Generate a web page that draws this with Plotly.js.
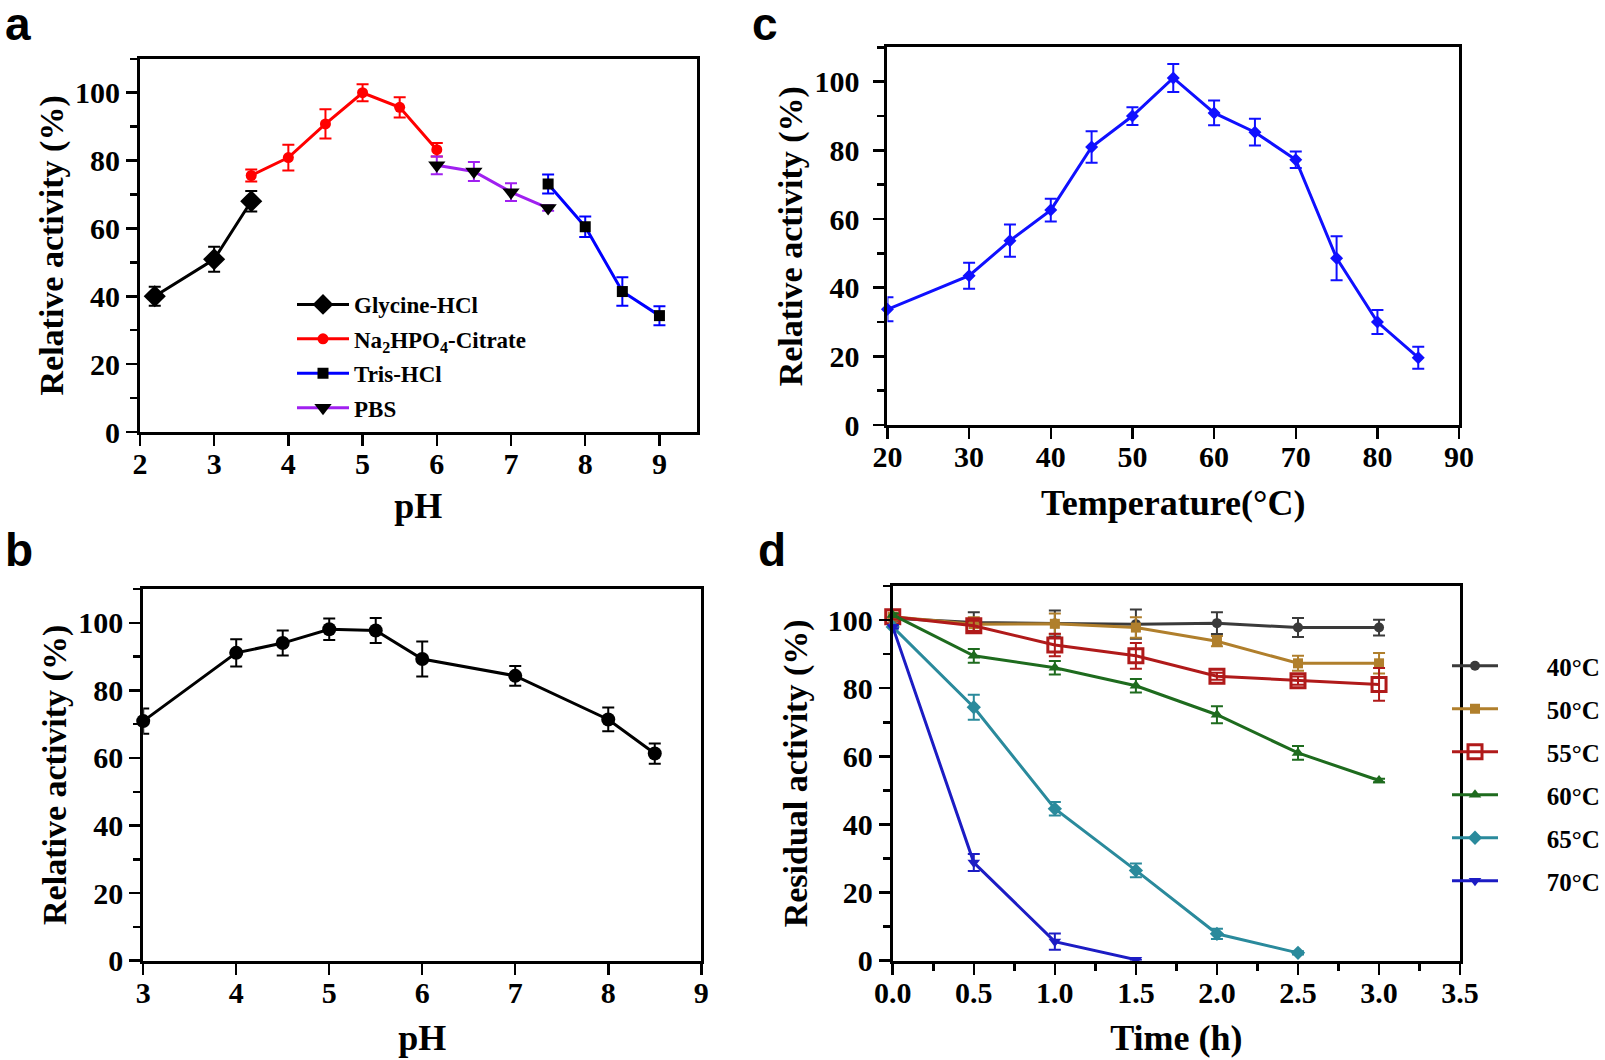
<!DOCTYPE html>
<html>
<head>
<meta charset="utf-8">
<script src="https://cdn.plot.ly/plotly-3.0.1.min.js"></script>
<style>html,body{margin:0;padding:0;background:#fff;}#chart{width:1605px;height:1060px;}</style>
</head>
<body>
<div id="chart"></div>
<script>
// ---------- Panel a: pH optimum (different buffers) ----------
const glyX = [2.2, 3, 3.5];
const glyY = [40.0, 50.9, 68.0];
const glyE = [2.8, 3.7, 3.0];
const naX = [3.5, 4, 4.5, 5, 5.5, 6];
const naY = [75.6, 80.9, 90.8, 100, 95.7, 83.2];
const naE = [1.8, 3.8, 4.3, 2.5, 3.0, 2.0];
const trisX = [7.5, 8, 8.5, 9];
const trisY = [73.1, 60.5, 41.4, 34.3];
const trisE = [2.8, 3.0, 4.2, 2.8];
const pbsX = [6, 6.5, 7, 7.5];
const pbsY = [78.6, 76.8, 70.7, 66.0];
const pbsE = [2.6, 2.8, 2.6, 0.8];
const bufferNames = ["Glycine-HCl", "Na<sub>2</sub>HPO<sub>4</sub>-Citrate", "Tris-HCl", "PBS"];

// ---------- Panel b: pH stability ----------
const bX = [3, 4, 4.5, 5, 5.5, 6, 7, 8, 8.5];
const bY = [70.9, 91.1, 94.0, 98.1, 97.7, 89.3, 84.3, 71.4, 61.3];
const bE = [3.7, 4.0, 3.7, 3.2, 3.7, 5.2, 2.9, 3.5, 3.0];

// ---------- Panel c: temperature optimum ----------
const cX = [20, 30, 35, 40, 45, 50, 55, 60, 65, 70, 75, 80, 85];
const cY = [33.7, 43.5, 53.7, 62.6, 81.0, 90.0, 101.1, 90.9, 85.3, 77.3, 48.6, 30.0, 19.6];
const cE = [3.5, 3.8, 4.7, 3.3, 4.6, 2.6, 4.1, 3.6, 3.9, 2.4, 6.4, 3.5, 3.2];

// ---------- Panel d: thermostability ----------
const dX = [0, 0.5, 1, 1.5, 2, 2.5, 3];
const d40 = [100.5, 99.3, 99.0, 98.8, 99.1, 97.8, 97.8];
const e40 = [0.8, 3.0, 3.8, 4.3, 3.2, 2.8, 2.3];
const d50 = [101, 98.8, 98.9, 97.8, 93.8, 87.3, 87.3];
const e50 = [0.8, 2.0, 3.0, 3.0, 1.5, 2.2, 3.0];
const d55 = [101, 98.3, 92.7, 89.5, 83.5, 82.2, 81.1];
const e55 = [0.8, 1.5, 3.3, 3.8, 1.0, 1.2, 4.8];
const d60 = [101.5, 89.5, 86.0, 80.7, 72.2, 61.0, 52.9];
const e60 = [0.5, 2.0, 2.0, 2.0, 2.5, 2.0, 0.5];
const d65X = [0, 0.5, 1, 1.5, 2, 2.5];
const d65 = [98, 74.4, 44.6, 26.5, 7.9, 2.3];
const e65 = [0.5, 3.7, 2.0, 2.0, 1.5, 0.5];
const d70X = [0, 0.5, 1, 1.5];
const d70 = [98, 28.8, 5.6, 0.3];
const e70 = [0.5, 2.5, 2.4, 0];
const tempNames = ["40°C", "50°C", "55°C", "60°C", "65°C", "70°C"];

const SERIF = "Liberation Serif";
const SANS = "Liberation Sans";
const W = 1605, H = 1060;
const px = v => v / W;
const py = v => 1 - v / H;
const PAD = "\u00a0\u00a0\u00a0\u00a0\u00a0\u00a0\u00a0"; // gap between symbol and label in legend d

function trace(x, y, e, name, lineColor, markerColor, symbol, size, xa, ya, legend, extra, shownName) {
  const t = {
    type: "scatter", mode: "lines+markers", x: x, y: y, name: shownName || name,
    xaxis: xa, yaxis: ya, cliponaxis: false,
    line: {color: lineColor, width: 3},
    marker: {color: markerColor, symbol: symbol, size: size, line: {width: 0}},
    error_y: {type: "data", array: e, visible: true, color: lineColor, thickness: 2, width: 6},
    showlegend: !!legend, legend: legend || "legend", legendgroup: name
  };
  if (extra) Object.assign(t.marker, extra);
  return t;
}

const data = [
  trace(glyX, glyY, glyE, bufferNames[0], "#000000", "#000000", "diamond", 17, "x", "y", "legend"),
  trace(naX, naY, naE, bufferNames[1], "#ff0000", "#ff0000", "circle", 11, "x", "y", "legend"),
  trace(trisX, trisY, trisE, bufferNames[2], "#0000ff", "#000000", "square", 11, "x", "y", "legend"),
  trace(pbsX, pbsY, pbsE, bufferNames[3], "#a020f0", "#000000", "triangle-down", 15, "x", "y", "legend"),

  trace(bX, bY, bE, "pH stability", "#000000", "#000000", "circle", 14, "x2", "y2", null),

  trace(cX, cY, cE, "Temperature", "#1010ff", "#1010ff", "diamond", 10, "x3", "y3", null),

  trace(dX, d40, e40, tempNames[0], "#3a3a3a", "#3a3a3a", "circle", 10, "x4", "y4", "legend2", null, PAD + tempNames[0]),
  trace(dX, d50, e50, tempNames[1], "#b07f2c", "#b07f2c", "square", 10, "x4", "y4", "legend2", null, PAD + tempNames[1]),
  trace(dX, d55, e55, tempNames[2], "#b01a1a", "#b01a1a", "square-open", 14, "x4", "y4", "legend2", {line: {width: 3, color: "#b01a1a"}}, PAD + tempNames[2]),
  trace(dX, d60, e60, tempNames[3], "#1e6b1e", "#1e6b1e", "triangle-up", 11, "x4", "y4", "legend2", null, PAD + tempNames[3]),
  trace(d65X, d65, e65, tempNames[4], "#2a8a9c", "#2a8a9c", "diamond", 11, "x4", "y4", "legend2", null, PAD + tempNames[4]),
  trace(d70X, d70, e70, tempNames[5], "#1c1cc4", "#1c1cc4", "triangle-down", 11, "x4", "y4", "legend2", null, PAD + tempNames[5])
];

const tickFont = {family: SERIF, size: 30, color: "#000", weight: "bold"};
const yTitleFont = {family: SERIF, size: 34, color: "#000", weight: "bold"};
const xTitleFont = {family: SERIF, size: 36, color: "#000", weight: "bold"};

function axis(domain, range, dtick, minorDtick, anchor, title, standoff, isX, extra) {
  const a = {
    domain: domain, range: range, anchor: anchor,
    showline: true, linewidth: 3, linecolor: "#000", mirror: true,
    ticks: "outside", ticklen: 11, tickwidth: 2.5, tickcolor: "#000",
    showgrid: false, zeroline: false, tick0: range[0], dtick: dtick,
    tickfont: tickFont, fixedrange: true,
    title: {text: title, font: isX ? xTitleFont : yTitleFont, standoff: standoff}
  };
  if (isX) a.ticklabelstandoff = -8;
  if (minorDtick) a.minor = {dtick: minorDtick, ticks: "outside", ticklen: 7, tickwidth: 2.5, tickcolor: "#000", showgrid: false};
  if (extra) Object.assign(a, extra);
  return a;
}

const letterFont = {family: SANS, size: 46, color: "#000", weight: "bold"};
function letter(t, x, yb) {
  return {text: t, x: px(x), y: py(yb), xref: "paper", yref: "paper", xanchor: "center", yanchor: "bottom",
          showarrow: false, font: letterFont};
}

const layout = {
  width: W, height: H, autosize: false,
  margin: {l: 0, r: 0, t: 0, b: 0},
  paper_bgcolor: "#fff", plot_bgcolor: "#fff",
  showlegend: true,
  xaxis: axis([px(140), px(697)], [2, 9.5], 1, null, "y", "pH", 14, true, {tick0: 2}),
  yaxis: axis([py(432), py(58.8)], [0, 110], 20, 10, "x", "Relative activity (%)", 2, false, {tick0: 0}),
  xaxis2: axis([px(143.3), px(701.7)], [3, 9], 1, null, "y2", "pH", 18, true),
  yaxis2: axis([py(960.7), py(589)], [0, 110], 20, 10, "x2", "Relative activity (%)", 2, false, {tick0: 0}),
  xaxis3: axis([px(888), px(1460)], [20, 90], 10, null, "y3", "Temperature(°C)", 18, true),
  yaxis3: axis([py(425), py(47.4)], [0, 110], 20, 10, "x3", "Relative activity (%)", 2, false, {tick0: 0, ticklabelstandoff: 8}),
  xaxis4: axis([px(893.3), px(1461)], [0, 3.5], 0.5, 0.25, "y4", "Time (h)", 18, true, {tickformat: ".1f"}),
  yaxis4: axis([py(960.7), py(586)], [0, 110], 20, 10, "x4", "Residual activity (%)", 10, false, {tick0: 0}),
  legend: {
    x: px(292), y: py(283), xanchor: "left", yanchor: "top",
    bgcolor: "rgba(0,0,0,0)", borderwidth: 0,
    font: {family: SERIF, size: 23, color: "#000", weight: "bold"},
    itemwidth: 52, tracegroupgap: 1.5
  },
  legend2: {
    x: px(1448), y: py(643), xanchor: "left", yanchor: "top",
    bgcolor: "rgba(0,0,0,0)", borderwidth: 0,
    font: {family: SERIF, size: 25, color: "#000", weight: "bold"},
    itemwidth: 46, tracegroupgap: 7.5
  },
  annotations: [
    letter("a", 18, 52),
    letter("c", 765, 52),
    letter("b", 19.5, 578),
    letter("d", 772, 578)
  ]
};

Plotly.newPlot("chart", data, layout, {staticPlot: true, displayModeBar: false});
</script>
</body>
</html>
